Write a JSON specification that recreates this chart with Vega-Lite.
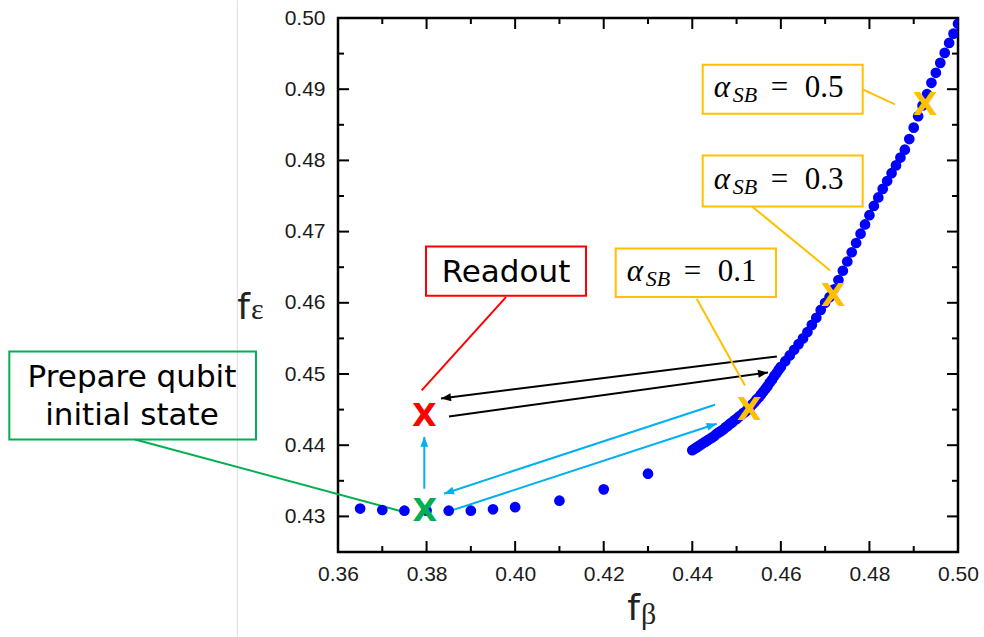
{
  "$schema": "https://vega.github.io/schema/vega-lite/v6.json",
  "width": 620,
  "height": 534,
  "autosize": {"type": "none"},
  "padding": {"left": 338, "top": 18, "right": 26, "bottom": 85},
  "background": "white",
  "config": {"view": {"stroke": "#000000", "strokeWidth": 2.5}, "axis": {"grid": false}},
  "datasets": {
    "curve": [
      {"fb": 0.365, "fe": 0.4311}, {"fb": 0.37, "fe": 0.4309}, {"fb": 0.375, "fe": 0.4308}, {"fb": 0.38, "fe": 0.4308},
      {"fb": 0.385, "fe": 0.4308}, {"fb": 0.39, "fe": 0.4308}, {"fb": 0.395, "fe": 0.431}, {"fb": 0.4, "fe": 0.4313},
      {"fb": 0.41, "fe": 0.4322}, {"fb": 0.42, "fe": 0.4338}, {"fb": 0.43, "fe": 0.436},
      {"fb": 0.44, "fe": 0.4393}, {"fb": 0.4405, "fe": 0.4395}, {"fb": 0.441, "fe": 0.4397}, {"fb": 0.4415, "fe": 0.4399},
      {"fb": 0.442, "fe": 0.4401}, {"fb": 0.4425, "fe": 0.4403}, {"fb": 0.443, "fe": 0.4405}, {"fb": 0.4435, "fe": 0.4407},
      {"fb": 0.444, "fe": 0.4409}, {"fb": 0.4445, "fe": 0.4411}, {"fb": 0.445, "fe": 0.4413}, {"fb": 0.4455, "fe": 0.4416},
      {"fb": 0.446, "fe": 0.4418}, {"fb": 0.4465, "fe": 0.442}, {"fb": 0.447, "fe": 0.4422}, {"fb": 0.4475, "fe": 0.4425},
      {"fb": 0.448, "fe": 0.4427}, {"fb": 0.4485, "fe": 0.443}, {"fb": 0.449, "fe": 0.4432}, {"fb": 0.4495, "fe": 0.4435},
      {"fb": 0.45, "fe": 0.4437}, {"fb": 0.4505, "fe": 0.444}, {"fb": 0.451, "fe": 0.4442}, {"fb": 0.4515, "fe": 0.4445},
      {"fb": 0.452, "fe": 0.4447}, {"fb": 0.4525, "fe": 0.445}, {"fb": 0.453, "fe": 0.4453}, {"fb": 0.4535, "fe": 0.4457},
      {"fb": 0.454, "fe": 0.446}, {"fb": 0.4545, "fe": 0.4464}, {"fb": 0.455, "fe": 0.4467}, {"fb": 0.4555, "fe": 0.4471},
      {"fb": 0.456, "fe": 0.4475}, {"fb": 0.4565, "fe": 0.4479}, {"fb": 0.457, "fe": 0.4483}, {"fb": 0.4575, "fe": 0.4488},
      {"fb": 0.458, "fe": 0.4492}, {"fb": 0.4585, "fe": 0.4497}, {"fb": 0.459, "fe": 0.4501}, {"fb": 0.4595, "fe": 0.4506},
      {"fb": 0.46, "fe": 0.451}, {"fb": 0.461, "fe": 0.4518}, {"fb": 0.462, "fe": 0.4526}, {"fb": 0.463, "fe": 0.4534},
      {"fb": 0.464, "fe": 0.4542}, {"fb": 0.465, "fe": 0.455}, {"fb": 0.466, "fe": 0.4559}, {"fb": 0.467, "fe": 0.4569},
      {"fb": 0.468, "fe": 0.4579}, {"fb": 0.469, "fe": 0.459}, {"fb": 0.47, "fe": 0.46}, {"fb": 0.471, "fe": 0.4608},
      {"fb": 0.472, "fe": 0.4619}, {"fb": 0.473, "fe": 0.4632}, {"fb": 0.474, "fe": 0.4645}, {"fb": 0.475, "fe": 0.4658},
      {"fb": 0.476, "fe": 0.4671}, {"fb": 0.477, "fe": 0.4684}, {"fb": 0.478, "fe": 0.4697}, {"fb": 0.479, "fe": 0.471},
      {"fb": 0.48, "fe": 0.4723}, {"fb": 0.481, "fe": 0.4736}, {"fb": 0.482, "fe": 0.4748}, {"fb": 0.483, "fe": 0.476},
      {"fb": 0.484, "fe": 0.4771}, {"fb": 0.485, "fe": 0.4782}, {"fb": 0.486, "fe": 0.4793}, {"fb": 0.487, "fe": 0.4804},
      {"fb": 0.488, "fe": 0.4815}, {"fb": 0.489, "fe": 0.483}, {"fb": 0.49, "fe": 0.4846}, {"fb": 0.491, "fe": 0.4862},
      {"fb": 0.492, "fe": 0.4877}, {"fb": 0.493, "fe": 0.4893}, {"fb": 0.494, "fe": 0.4909}, {"fb": 0.495, "fe": 0.4923},
      {"fb": 0.496, "fe": 0.4937}, {"fb": 0.497, "fe": 0.4951}, {"fb": 0.498, "fe": 0.4965}, {"fb": 0.499, "fe": 0.4978},
      {"fb": 0.5, "fe": 0.4992}
    ],
    "xticks": [
      {"v": 0.36, "k": "major"}, {"v": 0.37, "k": "minor"}, {"v": 0.38, "k": "major"}, {"v": 0.39, "k": "minor"},
      {"v": 0.4, "k": "major"}, {"v": 0.41, "k": "minor"}, {"v": 0.42, "k": "major"}, {"v": 0.43, "k": "minor"},
      {"v": 0.44, "k": "major"}, {"v": 0.45, "k": "minor"}, {"v": 0.46, "k": "major"}, {"v": 0.47, "k": "minor"},
      {"v": 0.48, "k": "major"}, {"v": 0.49, "k": "minor"}, {"v": 0.5, "k": "major"}
    ],
    "yticks": [
      {"v": 0.43, "k": "major"}, {"v": 0.435, "k": "minor"}, {"v": 0.44, "k": "major"}, {"v": 0.445, "k": "minor"},
      {"v": 0.45, "k": "major"}, {"v": 0.455, "k": "minor"}, {"v": 0.46, "k": "major"}, {"v": 0.465, "k": "minor"},
      {"v": 0.47, "k": "major"}, {"v": 0.475, "k": "minor"}, {"v": 0.48, "k": "major"}, {"v": 0.485, "k": "minor"},
      {"v": 0.49, "k": "major"}, {"v": 0.495, "k": "minor"}, {"v": 0.5, "k": "major"}
    ],
    "markers": [
      {"fb": 0.3795, "fe": 0.4441, "kind": "red"},
      {"fb": 0.3796, "fe": 0.4307, "kind": "green"},
      {"fb": 0.45285, "fe": 0.44489, "kind": "yellow"},
      {"fb": 0.4718, "fe": 0.4609, "kind": "yellow"},
      {"fb": 0.49255, "fe": 0.48784, "kind": "yellow"}
    ],
    "lines": [
      {"x": 0.4591, "y": 0.45247, "x2": 0.38326, "y2": 0.44657, "kind": "black", "head": true},
      {"x": 0.38506, "y": 0.44404, "x2": 0.4571, "y2": 0.45022, "kind": "black", "head": true},
      {"x": 0.37949, "y": 0.43389, "x2": 0.37949, "y2": 0.44117, "kind": "blue", "head": true},
      {"x": 0.44513, "y": 0.44569, "x2": 0.38394, "y2": 0.43319, "kind": "blue", "head": true},
      {"x": 0.38567, "y": 0.43084, "x2": 0.44551, "y2": 0.44302, "kind": "blue", "head": true},
      {"x": 0.31416, "y": 0.44081, "x2": 0.37445, "y2": 0.4307, "kind": "green", "head": false},
      {"x": 0.39793, "y": 0.4608, "x2": 0.3789, "y2": 0.4477, "kind": "red", "head": false},
      {"x": 0.441, "y": 0.46058, "x2": 0.4519, "y2": 0.4484, "kind": "yellow", "head": false},
      {"x": 0.45348, "y": 0.47354, "x2": 0.47111, "y2": 0.46455, "kind": "yellow", "head": false},
      {"x": 0.47862, "y": 0.48993, "x2": 0.48577, "y2": 0.48787, "kind": "yellow", "head": false}
    ],
    "boxes": [
      {"x": 0.28578, "x2": 0.34148, "y": 0.44081, "y2": 0.45317, "kind": "green"},
      {"x": 0.37987, "x2": 0.416, "y": 0.461, "y2": 0.46792, "kind": "red"},
      {"x": 0.42271, "x2": 0.4589, "y": 0.4608, "y2": 0.46764, "kind": "yellow"},
      {"x": 0.44235, "x2": 0.47848, "y": 0.47354, "y2": 0.4807, "kind": "yellow"},
      {"x": 0.44235, "x2": 0.47848, "y": 0.48656, "y2": 0.49344, "kind": "yellow"}
    ],
    "notes": [
      {"x": 0.31348, "y": 0.44938, "t": "Prepare qubit\ninitial state"},
      {"x": 0.39793, "y": 0.4642, "t": "Readout"}
    ],
    "alphas": [
      {"x": 0.44081, "y": 0.46424, "v": "0.1"},
      {"x": 0.46042, "y": 0.47712, "v": "0.3"},
      {"x": 0.46042, "y": 0.49, "v": "0.5"}
    ],
    "fs": [
      {"x": 0.34013, "y": 0.45777},
      {"x": 0.42819, "y": 0.41539}
    ],
    "subs": [
      {"x": 0.34013, "y": 0.45777, "t": "ε"},
      {"x": 0.42819, "y": 0.41483, "t": "β"}
    ],
    "sep": [
      {"x": 0.33726, "y": 0.5025, "y2": 0.4131}
    ]
  },
  "layer": [
    {
      "data": {"name": "sep"},
      "mark": {"type": "rule", "color": "#dcdcdc", "strokeWidth": 1},
      "encoding": {
        "x": {"field": "x", "type": "quantitative", "scale": {"domain": [0.36, 0.5], "nice": false, "zero": false},
          "axis": {"orient": "bottom", "values": [0.36, 0.38, 0.4, 0.42, 0.44, 0.46, 0.48, 0.5], "format": ".2f", "ticks": false, "tickSize": 0, "domain": false, "labelFont": "Liberation Sans", "labelFontSize": 21, "labelColor": "#1a1a1a", "labelPadding": 11.5, "labelFlush": false, "labelOverlap": false, "labelBound": false, "title": null, "grid": false}},
        "y": {"field": "y", "type": "quantitative", "scale": {"domain": [0.425, 0.5], "nice": false, "zero": false},
          "axis": {"orient": "left", "values": [0.43, 0.44, 0.45, 0.46, 0.47, 0.48, 0.49, 0.5], "format": ".2f", "ticks": false, "tickSize": 0, "domain": false, "labelFont": "Liberation Sans", "labelFontSize": 21, "labelColor": "#1a1a1a", "labelPadding": 13, "labelFlush": false, "labelOverlap": false, "labelBound": false, "title": null, "grid": false}},
        "y2": {"field": "y2"}
      }
    },
    {
      "data": {"name": "xticks"},
      "mark": {"type": "tick", "orient": "vertical", "thickness": 2, "color": "#000000", "opacity": 1, "clip": true},
      "encoding": {
        "x": {"field": "v", "type": "quantitative"},
        "y": {"datum": 0.425, "type": "quantitative"},
        "size": {"field": "k", "type": "nominal", "scale": {"domain": ["major", "minor"], "range": [22, 12]}, "legend": null}
      }
    },
    {
      "data": {"name": "xticks"},
      "mark": {"type": "tick", "orient": "vertical", "thickness": 2, "color": "#000000", "opacity": 1, "clip": true},
      "encoding": {
        "x": {"field": "v", "type": "quantitative"},
        "y": {"datum": 0.5, "type": "quantitative"},
        "size": {"field": "k", "type": "nominal", "scale": {"domain": ["major", "minor"], "range": [22, 12]}, "legend": null}
      }
    },
    {
      "data": {"name": "yticks"},
      "mark": {"type": "tick", "orient": "horizontal", "thickness": 2, "color": "#000000", "opacity": 1, "clip": true},
      "encoding": {
        "y": {"field": "v", "type": "quantitative"},
        "x": {"datum": 0.36, "type": "quantitative"},
        "size": {"field": "k", "type": "nominal", "scale": {"domain": ["major", "minor"], "range": [22, 12]}, "legend": null}
      }
    },
    {
      "data": {"name": "yticks"},
      "mark": {"type": "tick", "orient": "horizontal", "thickness": 2, "color": "#000000", "opacity": 1, "clip": true},
      "encoding": {
        "y": {"field": "v", "type": "quantitative"},
        "x": {"datum": 0.5, "type": "quantitative"},
        "size": {"field": "k", "type": "nominal", "scale": {"domain": ["major", "minor"], "range": [22, 12]}, "legend": null}
      }
    },
    {
      "data": {"name": "boxes"},
      "mark": {"type": "rect", "filled": false, "strokeWidth": 2},
      "encoding": {
        "x": {"field": "x", "type": "quantitative"},
        "x2": {"field": "x2"},
        "y": {"field": "y", "type": "quantitative"},
        "y2": {"field": "y2"},
        "color": {"field": "kind", "type": "nominal", "scale": {"domain": ["black", "blue", "red", "green", "yellow"], "range": ["#000000", "#00B0F0", "#FF0000", "#00B050", "#FFC000"]}, "legend": null}
      }
    },
    {
      "data": {"name": "lines"},
      "mark": {"type": "rule", "strokeWidth": 2},
      "encoding": {
        "x": {"field": "x", "type": "quantitative"},
        "x2": {"field": "x2"},
        "y": {"field": "y", "type": "quantitative"},
        "y2": {"field": "y2"},
        "color": {"field": "kind", "type": "nominal", "scale": {"domain": ["black", "blue", "red", "green", "yellow"], "range": ["#000000", "#00B0F0", "#FF0000", "#00B050", "#FFC000"]}, "legend": null}
      }
    },
    {
      "data": {"name": "curve"},
      "mark": {"type": "point", "filled": true, "size": 115, "opacity": 1, "color": "#0000FF", "clip": true},
      "encoding": {
        "x": {"field": "fb", "type": "quantitative"},
        "y": {"field": "fe", "type": "quantitative"}
      }
    },
    {
      "data": {"name": "lines"},
      "transform": [
        {"filter": "datum.head"},
        {"calculate": "atan2(-(datum.y2 - datum.y) * 7120, (datum.x2 - datum.x) * 4428.6) * 180 / PI", "as": "ang"}
      ],
      "mark": {"type": "point", "shape": "M0,0L-1,-0.4L-1,0.4Z", "filled": true, "size": 400, "opacity": 1, "strokeWidth": 0},
      "encoding": {
        "x": {"field": "x2", "type": "quantitative"},
        "y": {"field": "y2", "type": "quantitative"},
        "angle": {"field": "ang", "type": "quantitative", "scale": null},
        "color": {"field": "kind", "type": "nominal", "scale": {"domain": ["black", "blue", "red", "green", "yellow"], "range": ["#000000", "#00B0F0", "#FF0000", "#00B050", "#FFC000"]}, "legend": null}
      }
    },
    {
      "data": {"name": "markers"},
      "mark": {"type": "text", "text": "X", "font": "DejaVu Sans", "fontWeight": "bold", "fontSize": 32, "align": "center", "baseline": "middle"},
      "encoding": {
        "x": {"field": "fb", "type": "quantitative"},
        "y": {"field": "fe", "type": "quantitative"},
        "color": {"field": "kind", "type": "nominal", "scale": {"domain": ["black", "blue", "red", "green", "yellow"], "range": ["#000000", "#00B0F0", "#FF0000", "#00B050", "#FFC000"]}, "legend": null}
      }
    },
    {
      "data": {"name": "notes"},
      "mark": {"type": "text", "font": "DejaVu Sans", "fontSize": 31, "lineBreak": "\n", "lineHeight": 38, "align": "center", "baseline": "middle", "color": "#000000"},
      "encoding": {
        "x": {"field": "x", "type": "quantitative"},
        "y": {"field": "y", "type": "quantitative"},
        "text": {"field": "t"}
      }
    },
    {
      "data": {"name": "alphas"},
      "mark": {"type": "text", "text": "α", "font": "Liberation Serif", "fontStyle": "italic", "fontSize": 31, "align": "left", "baseline": "alphabetic", "dx": -69, "dy": 8, "color": "#000000"},
      "encoding": {
        "x": {"field": "x", "type": "quantitative"},
        "y": {"field": "y", "type": "quantitative"}
      }
    },
    {
      "data": {"name": "alphas"},
      "mark": {"type": "text", "text": "SB", "font": "Liberation Serif", "fontStyle": "italic", "fontSize": 22, "align": "left", "baseline": "alphabetic", "dx": -50, "dy": 13, "color": "#000000"},
      "encoding": {
        "x": {"field": "x", "type": "quantitative"},
        "y": {"field": "y", "type": "quantitative"}
      }
    },
    {
      "data": {"name": "alphas"},
      "mark": {"type": "text", "text": "=", "font": "Liberation Serif", "fontSize": 31, "align": "left", "baseline": "alphabetic", "dx": -12, "dy": 8, "color": "#000000"},
      "encoding": {
        "x": {"field": "x", "type": "quantitative"},
        "y": {"field": "y", "type": "quantitative"}
      }
    },
    {
      "data": {"name": "alphas"},
      "mark": {"type": "text", "font": "Liberation Serif", "fontSize": 31, "align": "left", "baseline": "alphabetic", "dx": 22, "dy": 8, "color": "#000000"},
      "encoding": {
        "x": {"field": "x", "type": "quantitative"},
        "y": {"field": "y", "type": "quantitative"},
        "text": {"field": "v"}
      }
    },
    {
      "data": {"name": "fs"},
      "mark": {"type": "text", "text": "f", "font": "DejaVu Sans", "fontSize": 36, "align": "right", "baseline": "alphabetic", "color": "#222222"},
      "encoding": {
        "x": {"field": "x", "type": "quantitative"},
        "y": {"field": "y", "type": "quantitative"}
      }
    },
    {
      "data": {"name": "subs"},
      "mark": {"type": "text", "font": "Liberation Serif", "fontSize": 30, "align": "left", "baseline": "alphabetic", "dx": 1, "color": "#222222"},
      "encoding": {
        "x": {"field": "x", "type": "quantitative"},
        "y": {"field": "y", "type": "quantitative"},
        "text": {"field": "t"}
      }
    }
  ]
}
